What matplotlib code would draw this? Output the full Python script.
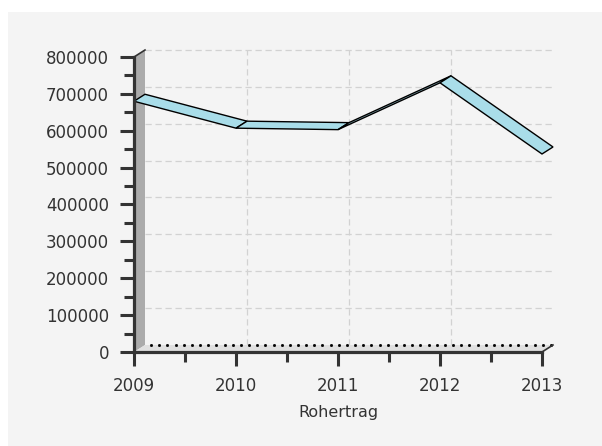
import matplotlib
matplotlib.use("Agg")
import matplotlib.pyplot as plt
from matplotlib.patches import Polygon, Rectangle
from matplotlib.transforms import offset_copy, IdentityTransform
from matplotlib.ticker import MultipleLocator

# data
years = [2009, 2010, 2011, 2012, 2013]
rohertrag = [680000, 607000, 603000, 730000, 537000]
y_ticks = [0, 100000, 200000, 300000, 400000, 500000, 600000, 700000, 800000]
x_label = "Rohertrag"

W, H = 602, 446
DX, DY = 11, 7  # 3d depth offset in pixels

fig = plt.figure(figsize=(W / 100, H / 100), dpi=100)
fig.patch.set_facecolor("white")
fig.patches.append(Rectangle((8 / W, 0), 1, (H - 12) / H, transform=fig.transFigure,
                             facecolor="#f4f4f4", edgecolor="none", zorder=-5))

# front plane of the plot
x0, x1 = 134, 542
y0, y1 = 352, 57
ax = fig.add_axes([x0 / W, (H - y0) / H, (x1 - x0) / W, (y0 - y1) / H])
ax.set_facecolor("none")
ax.set_xlim(years[0], years[-1])
ax.set_ylim(0, 800000)
ax.autoscale(False)

back = offset_copy(ax.transData, fig=fig, x=DX, y=DY, units="dots")
pix = IdentityTransform()

# grid on the back wall
for v in y_ticks[1:]:
    ax.plot([years[0], years[-1]], [v, v], transform=back, color="#d2d2d2",
            lw=0.9, ls=(0, (5, 3)), clip_on=False, zorder=1)
for yr in years[1:-1]:
    ax.plot([yr, yr], [0, 800000], transform=back, color="#d2d2d2",
            lw=0.9, ls=(0, (5, 3)), clip_on=False, zorder=1)

# polygon between a front segment and its copy pushed back
def depth_poly(p, q, **kw):
    a = ax.transData.transform([p, q])
    pts = [a[0], a[1], a[1] + [DX, DY], a[0] + [DX, DY]]
    poly = Polygon(pts, closed=True, transform=pix, clip_on=False, **kw)
    ax.add_patch(poly)
    return poly

# side wall and floor
depth_poly((years[0], 0), (years[0], 800000), facecolor="#ababab", edgecolor="none", zorder=2)
depth_poly((years[0], 0), (years[-1], 0), facecolor="#e0e0e0", edgecolor="none", zorder=2)
dots_x = [years[0] + 0.06 + i * 0.08 for i in range(50)]
ax.plot(dots_x, [0] * len(dots_x), transform=back, color="black", ls="none",
        marker="s", markersize=1.0, clip_on=False, zorder=3)

# ribbon line
for i in range(len(years) - 1):
    depth_poly((years[i], rohertrag[i]), (years[i + 1], rohertrag[i + 1]),
               facecolor="#a9dde9", edgecolor="black", lw=1.0, zorder=5 + i)

# slanted edges at the top of the wall and the end of the floor
for p in [(years[0], 800000), (years[-1], 0)]:
    a = ax.transData.transform(p)
    ax.plot([a[0], a[0] + DX], [a[1], a[1] + DY], transform=pix,
            color="#333333", lw=1.2, clip_on=False, zorder=4)

# axes
for s in ["top", "right"]:
    ax.spines[s].set_visible(False)
for s in ["left", "bottom"]:
    ax.spines[s].set_color("#333333")
    ax.spines[s].set_linewidth(2.3)
    ax.spines[s].set_zorder(10)

ax.set_yticks(y_ticks)
ax.set_yticklabels([str(v) for v in y_ticks])
ax.set_xticks(years)
ax.set_xticklabels([str(y) for y in years])
ax.yaxis.set_minor_locator(MultipleLocator(50000))
ax.xaxis.set_minor_locator(MultipleLocator(0.5))
ax.tick_params(which="major", length=10, width=2.2, color="#333333",
               labelsize=12, labelcolor="#333333", pad=8)
ax.tick_params(which="minor", length=7, width=2.2, color="#333333")
ax.set_xlabel(x_label, fontsize=11.5, color="#333333", labelpad=7)

fig.savefig("out.png", dpi=100)
